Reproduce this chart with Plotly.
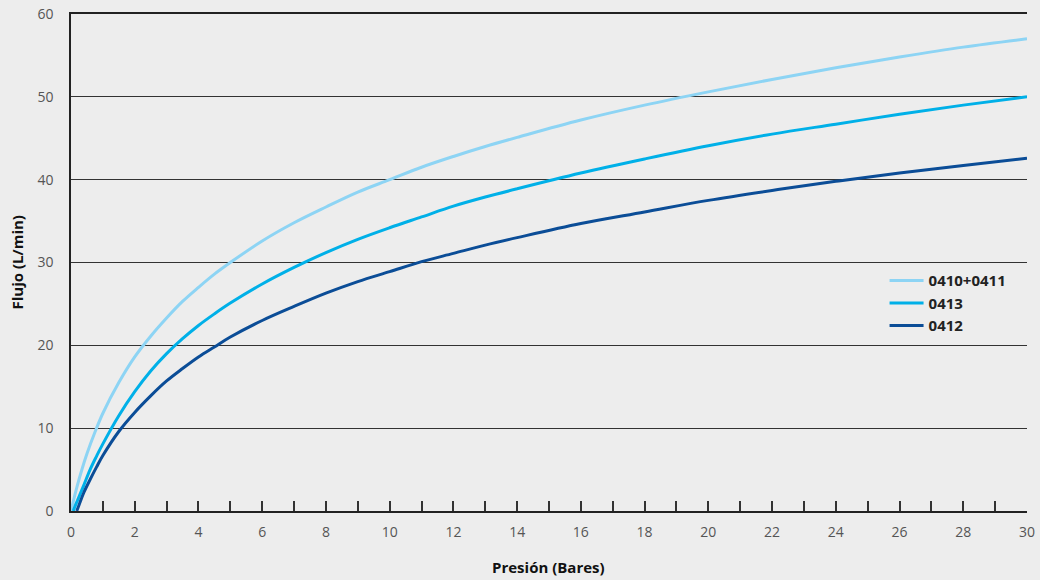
import plotly.graph_objects as go

# Flujo vs presión
x_0410 = [0, 0.1, 0.2, 0.35, 0.5, 0.75, 1, 1.5, 2, 2.5, 3, 3.5, 4, 4.5, 5, 6, 7, 8, 9,
          10, 11, 12, 13, 14, 16, 18, 20, 22, 24, 26, 28, 30]
y_0410 = [0, 1.6, 3.1, 5.1, 6.9, 9.5, 11.8, 15.5, 18.6, 21.1, 23.3, 25.3, 27.0, 28.6,
          30.0, 32.6, 34.8, 36.7, 38.5, 40.0, 41.5, 42.8, 44.0, 45.1, 47.2, 49.0, 50.6,
          52.1, 53.5, 54.8, 56.0, 57.0]

x_0413 = [0.07, 0.15, 0.25, 0.4, 0.6, 0.8, 1, 1.5, 2, 2.5, 3, 3.5, 4, 4.5, 5, 6, 7, 8,
          9, 10, 11, 12, 13, 14, 16, 18, 20, 22, 24, 26, 28, 30]
y_0413 = [0, 0.8, 1.7, 3.1, 5.0, 6.6, 8.1, 11.5, 14.4, 16.9, 19.0, 20.8, 22.4, 23.8,
          25.1, 27.4, 29.4, 31.2, 32.8, 34.2, 35.5, 36.8, 37.9, 38.9, 40.8, 42.5, 44.1,
          45.5, 46.7, 47.9, 49.0, 50.0]

x_0412 = [0.18, 0.25, 0.4, 0.6, 0.8, 1, 1.5, 2, 2.5, 3, 3.5, 4, 4.5, 5, 6, 7, 8, 9,
          10, 11, 12, 13, 14, 16, 18, 20, 22, 24, 26, 28, 30]
y_0412 = [0, 0.7, 2.2, 3.8, 5.3, 6.7, 9.6, 11.9, 13.9, 15.7, 17.2, 18.6, 19.8, 21.0,
          23.0, 24.7, 26.3, 27.7, 28.9, 30.1, 31.1, 32.1, 33.0, 34.7, 36.1, 37.5, 38.7,
          39.8, 40.8, 41.7, 42.6]

series = [
    ("0410+0411", x_0410, y_0410, "#8dd4f4"),
    ("0413", x_0413, y_0413, "#00b0e8"),
    ("0412", x_0412, y_0412, "#0b4d97"),
]

x_ticks = list(range(0, 31, 2))
y_ticks = list(range(0, 61, 10))

fig = go.Figure()
for name, xs, ys, col in series:
    fig.add_trace(go.Scatter(
        x=xs, y=ys, name=name, mode="lines",
        line=dict(color=col, width=3, shape="spline", smoothing=1),
    ))

title_font = dict(family="Open Sans", size=15, color="#111111", weight="bold")

fig.update_layout(
    width=1040, height=580,
    margin=dict(l=71, r=13, t=14, b=69),
    paper_bgcolor="#ededed", plot_bgcolor="#ededed",
    font=dict(family="Open Sans", size=14, color="#555555"),
    showlegend=True,
    legend=dict(
        x=0.851, y=0.418, xanchor="left", yanchor="middle",
        bgcolor="rgba(0,0,0,0)", tracegroupgap=0,
        font=dict(family="Open Sans", size=15, color="#222222", weight="bold"),
        itemwidth=34,
    ),
    annotations=[
        dict(text="Presión (Bares)", xref="paper", yref="paper", x=0.499, y=-0.1127,
             xanchor="center", yanchor="middle", showarrow=False, font=title_font),
        dict(text="Flujo (L/min)", xref="paper", yref="paper", x=-0.0565, y=0.5,
             xanchor="center", yanchor="middle", showarrow=False, textangle=-90,
             font=title_font),
    ],
)

fig.update_xaxes(
    range=[0, 30], tickvals=x_ticks, automargin=False,
    ticks="inside", ticklen=10, tickcolor="#333333", tickwidth=1.5,
    minor=dict(dtick=1, ticks="inside", ticklen=10, tickcolor="#333333", tickwidth=1.5),
    showline=True, mirror=True, linecolor="#222222", linewidth=2,
    showgrid=False, zeroline=False,
    ticklabelstandoff=7,
)

fig.update_yaxes(
    range=[0, 60], tickvals=y_ticks, automargin=False,
    ticks="", showline=True, linecolor="#222222", linewidth=1.5,
    showgrid=True, gridcolor="#333333", gridwidth=1,
    zeroline=False, ticklabelstandoff=13,
)

fig.write_html("out.html", config={"displayModeBar": False},
               post_script="document.body.style.margin='0';")
